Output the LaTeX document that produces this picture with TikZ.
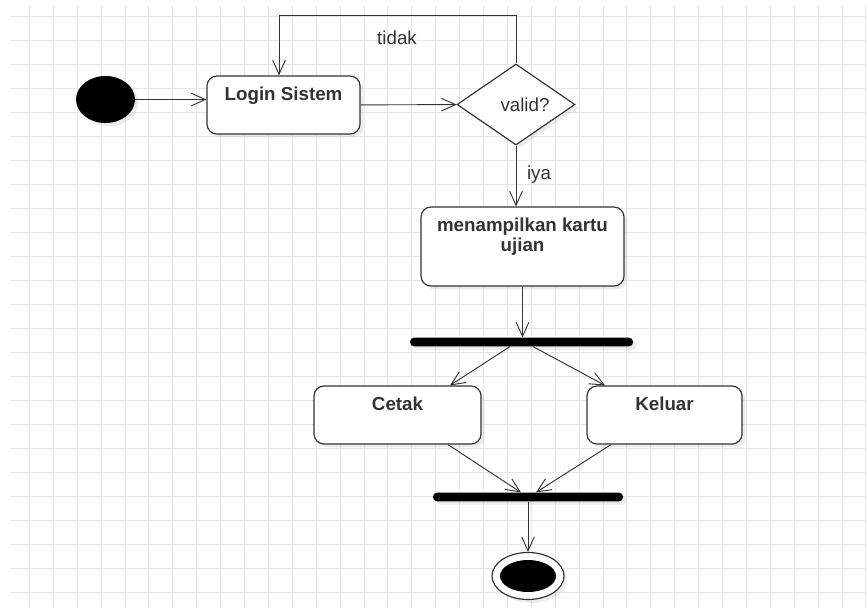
\documentclass[tikz,border=0pt]{standalone}
\usepackage{fontspec}
\setmainfont{Liberation Sans}
\usetikzlibrary{shapes.geometric,arrows.meta,shadows,calc}
\definecolor{ink}{HTML}{333333}
\definecolor{gridgray}{HTML}{E6E6E6}
\tikzset{
  softshadow/.style={drop shadow={shadow xshift=0.1cm, shadow yshift=-0.1cm, opacity=0.15}},
  action/.style={draw=ink, line width=1pt, rounded corners=0.3cm, fill=white, softshadow},
  boxtext/.style={anchor=base, yshift=-0.75cm, font=\fontsize{16}{17}\selectfont\bfseries, text=ink, align=center},
  boxtexttwo/.style={anchor=base, yshift=-1.35cm, font=\fontsize{16}{17}\selectfont\bfseries, text=ink, align=center},
  guard/.style={font=\fontsize{16}{19}\selectfont, text=ink},
  flow/.style={draw=ink, line width=0.8pt, -{Straight Barb[length=0.42cm, width=0.38cm]}},
  syncbar/.style={fill=black, rounded corners=0.12cm, minimum height=0.26cm, inner sep=0pt, softshadow},
  gridline/.style={draw=gridgray, line width=0.6pt},
}
\begin{document}
\begin{tikzpicture}[x=0.03cm, y=-0.03cm]
            \useasboundingbox (0,0) rectangle (867,608);
            \fill[white] (0,0) rectangle (867,608);
            % background grid
            \foreach \gx in {0,...,35}
                \draw[gridline] (29.3+23.9*\gx,6) -- (29.3+23.9*\gx,608);
            \foreach \gy in {0,...,24}
                \draw[gridline] (10,16+24*\gy) -- (867,16+24*\gy);
            % nodes
            \node[ellipse, fill=black, minimum width=1.77cm, minimum height=1.41cm, inner sep=0pt, softshadow] (start) at (105.5,99.5) {};
            \node[action, minimum width=4.59cm, minimum height=1.74cm, label={[boxtext]north:Login Sistem}] (login) at (283.5,105) {};
            \node[diamond, draw=ink, line width=1pt, fill=white, softshadow, minimum width=3.54cm, minimum height=2.43cm, inner sep=0pt, label={[guard, xshift=0.27cm]center:valid?}] (valid) at (516,104.5) {};
            \node[action, minimum width=6.09cm, minimum height=2.37cm, label={[boxtexttwo]north:menampilkan kartu\\ujian}] (kartu) at (522.5,246.5) {};
            \node[syncbar, minimum width=6.69cm] (fork1) at (521.5,342) {};
            \node[action, minimum width=5.01cm, minimum height=1.74cm, label={[boxtext]north:Cetak}] (cetak) at (397.5,415) {};
            \node[action, minimum width=4.65cm, minimum height=1.74cm, label={[boxtext]north:Keluar}] (keluar) at (664.5,415) {};
            \node[syncbar, minimum width=5.7cm] (join) at (528,497) {};
            \node[ellipse, draw=ink, line width=1pt, fill=white, minimum width=2.16cm, minimum height=1.41cm, inner sep=0pt, softshadow] (final) at (528,576) {};
            \node[ellipse, fill=black, minimum width=1.68cm, minimum height=0.96cm, inner sep=0pt] (finaldot) at (final.center) {};
            \node[guard] (tidak) at (397,38) {tidak};
            % connectors
            \draw[flow] (start) -- (start -| login.west);
            \draw[flow] (login) -- (valid);
            \draw[flow] (valid.north) -- ++(0,-48) -| ($(login.north)+(-4.5,0)$);
            \draw[flow] (valid.south) -- (valid.south |- kartu.north) node[guard, right, pos=0.48, xshift=0.2cm] (iya) {iya};
            \draw[flow] (kartu.south) -- (kartu.south |- fork1.north);
            \draw[flow] ($(fork1.south)+(-11.5,0)$) -- ($(cetak.north)+(52.5,0)$);
            \draw[flow] ($(fork1.south)+(11.5,0)$) -- ($(keluar.north)+(-59.5,0)$);
            \draw[flow] ($(cetak.south)+(50.5,0)$) -- ($(join.north)+(-7,0)$);
            \draw[flow] ($(keluar.south)+(-53.5,0)$) -- ($(join.north)+(8,0)$);
            \draw[flow] (join.south) -- (final.north);
\end{tikzpicture}
\end{document}
